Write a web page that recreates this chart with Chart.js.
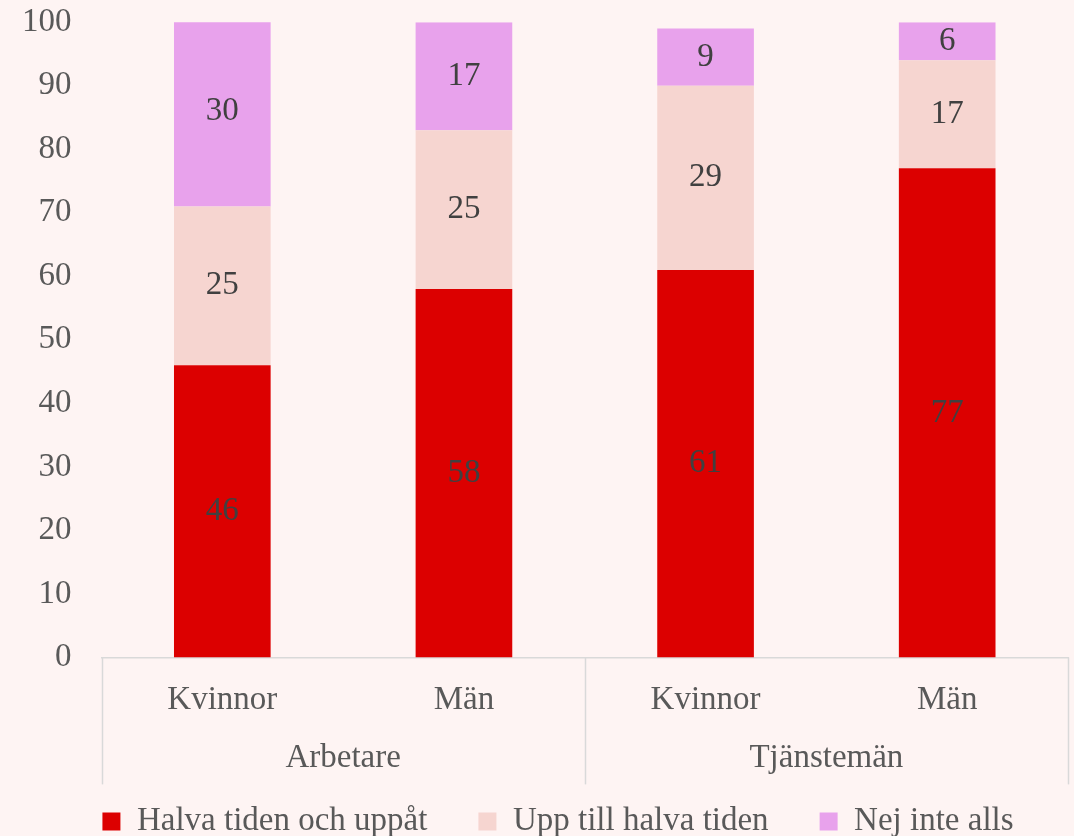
<!DOCTYPE html>
<html>
<head>
<meta charset="utf-8">
<script src="https://cdn.jsdelivr.net/npm/chart.js@4.4.1/dist/chart.umd.min.js"></script>
<style>
  html, body { margin: 0; padding: 0; background: #FEF4F3; }
  #wrap { width: 1074px; height: 836px; }
</style>
</head>
<body>
<div id="wrap"><canvas id="c" width="1074" height="836"></canvas></div>
<script>
const categories = ['Kvinnor', 'Män', 'Kvinnor', 'Män'];
const groups = ['Arbetare', 'Tjänstemän'];
const seriesNames = ['Halva tiden och uppåt', 'Upp till halva tiden', 'Nej inte alls'];
const halvaTiden = [46, 58, 61, 77];
const uppTillHalva = [25, 25, 29, 17];
const nejInteAlls = [30, 17, 9, 6];
const yTicks = [0, 10, 20, 30, 40, 50, 60, 70, 80, 90, 100];

const FONT = "'Liberation Serif', 'Times New Roman', serif";
const FS = 33;
const TEXT = '#595959';
const AXIS = '#D9D9D9';
const LEGEND_SHIFT = 24;

const bgPlugin = {
  id: 'bg',
  beforeDraw(chart) {
    const ctx = chart.ctx;
    ctx.save();
    ctx.fillStyle = '#FEF4F3';
    ctx.fillRect(0, 0, chart.width, chart.height);
    ctx.restore();
  }
};

const legendShift = {
  id: 'legendShift',
  afterLayout(chart) {
    if (chart.legend) {
      chart.legend.left += LEGEND_SHIFT;
      chart.legend.right += LEGEND_SHIFT;
    }
  }
};

const valueLabels = {
  id: 'valueLabels',
  afterDatasetsDraw(chart) {
    const ctx = chart.ctx;
    ctx.save();
    ctx.font = FS + 'px ' + FONT;
    ctx.fillStyle = '#404040';
    ctx.textAlign = 'center';
    ctx.textBaseline = 'middle';
    chart.data.datasets.forEach((ds, di) => {
      const meta = chart.getDatasetMeta(di);
      meta.data.forEach((bar, i) => {
        const v = ds.data[i];
        ctx.fillText(String(v), bar.x, (bar.y + bar.base) / 2);
      });
    });
    ctx.restore();
  }
};

const groupAxis = {
  id: 'groupAxis',
  afterDraw(chart) {
    const x = chart.scales.x;
    const ctx = chart.ctx;
    const per = categories.length / groups.length;
    const top = x.top;
    const lineLen = 127;
    const bounds = [x.left];
    for (let g = 1; g < groups.length; g++) {
      bounds.push((x.getPixelForValue(g * per - 1) + x.getPixelForValue(g * per)) / 2);
    }
    bounds.push(x.right);
    ctx.save();
    ctx.strokeStyle = AXIS;
    ctx.lineWidth = 1.5;
    bounds.forEach(b => {
      ctx.beginPath();
      ctx.moveTo(Math.round(b) + 0.5, top);
      ctx.lineTo(Math.round(b) + 0.5, top + lineLen);
      ctx.stroke();
    });
    ctx.font = FS + 'px ' + FONT;
    ctx.fillStyle = TEXT;
    ctx.textAlign = 'center';
    ctx.textBaseline = 'middle';
    groups.forEach((g, gi) => {
      ctx.fillText(g, (bounds[gi] + bounds[gi + 1]) / 2, top + 101);
    });
    ctx.restore();
  }
};

new Chart(document.getElementById('c'), {
  type: 'bar',
  data: {
    labels: categories,
    datasets: [
      { label: seriesNames[0], data: halvaTiden, backgroundColor: '#DC0000' },
      { label: seriesNames[1], data: uppTillHalva, backgroundColor: '#F6D5D0' },
      { label: seriesNames[2], data: nejInteAlls, backgroundColor: '#E8A2EC' }
    ]
  },
  options: {
    responsive: false,
    animation: false,
    devicePixelRatio: 1,
    layout: { padding: { left: 0, right: 6, top: 0, bottom: -12 } },
    datasets: { bar: { categoryPercentage: 1.0, barPercentage: 0.4 } },
    scales: {
      x: {
        stacked: true,
        grid: { display: false },
        border: { display: true, color: AXIS, width: 1.5 },
        ticks: { font: { family: FONT, size: FS }, color: TEXT, padding: 15, maxRotation: 0 },
        afterFit(scale) { scale.height += 19; }
      },
      y: {
        stacked: true,
        min: 0,
        max: 100,
        afterBuildTicks(scale) { scale.ticks = yTicks.map(v => ({ value: v })); },
        grid: { display: false },
        border: { display: false },
        ticks: { font: { family: FONT, size: FS, lineHeight: 0.01 }, color: TEXT, padding: 22 }
      }
    },
    plugins: {
      legend: {
        position: 'bottom',
        labels: {
          font: { family: FONT, size: FS },
          color: TEXT,
          boxWidth: 18,
          boxHeight: 18,
          padding: 51
        }
      },
      tooltip: { enabled: false }
    }
  },
  plugins: [bgPlugin, legendShift, valueLabels, groupAxis]
});
</script>
</body>
</html>
